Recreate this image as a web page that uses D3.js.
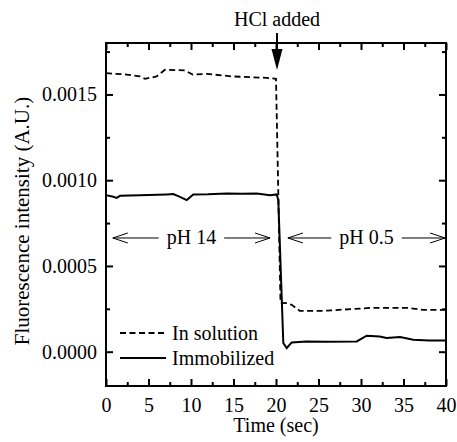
<!DOCTYPE html>
<html><head><meta charset="utf-8">
<script src="https://cdn.jsdelivr.net/npm/d3@7"></script>
</head><body style="margin:0;background:#fff">
<svg id="c" width="457" height="442" style="display:block;background:#fff"></svg>
<script>
// ---- data ----
const solutionT = [0,2.43,4.0,4.6,5.96,6.94,9.3,10.2,11.85,14.9,18.9,20.0,20.53,21.26,21.85,22.8,25.5,31.4,35.4,37.3,40];
const solutionV = [0.001624,0.001616,0.001605,0.001591,0.001605,0.001644,0.001640,0.001616,0.00162,0.001605,0.001597,0.001591,0.000285,0.000283,0.000273,0.000238,0.000238,0.000256,0.000256,0.000244,0.000244];
const immobT = [0,0.86,1.26,1.65,4,7.14,7.92,8.7,9.5,10.27,12,14.2,16,17.73,19.3,20.08,20.27,20.86,21.26,21.85,23.6,26,29.5,30.67,32.2,33.0,34.6,36.15,38,40];
const immobV = [0.000913,0.000903,0.000897,0.000909,0.000912,0.000917,0.000919,0.000903,0.000884,0.000917,0.000918,0.000923,0.000921,0.000923,0.000913,0.000917,0.000884,0.0000506,0.0000215,0.000054,0.00006,0.000058,0.00006,0.000093,0.000089,0.00008,0.000085,0.00007,0.000066,0.000066];
const xMajor = [0,5,10,15,20,25,30,35,40];
const xMinor = [2.5,7.5,12.5,17.5,22.5,27.5,32.5,37.5];
const yMajor = [0,0.0005,0.0010,0.0015];
const yMinor = [0.00025,0.00075,0.00125,0.00175];
const yLabels = ["0.0000","0.0005","0.0010","0.0015"];
const seriesNames = ["In solution","Immobilized"];
const xTitle = "Time (sec)";
const yTitle = "Fluorescence intensity (A.U.)";
const eventT = 20, eventLabel = "HCl added";
const phLabels = ["pH 14","pH 0.5"];
const phRanges = [[0.8,19.3],[21.4,39.9]];
const phLevel = 0.000663;
</script>
<script>
const FONT = "Liberation Serif";
const svg = d3.select("#c").attr("font-family",FONT);
const L=106,R=446,T=43,B=386;
const x = d3.scaleLinear().domain([0,40]).range([L,R]);
const y = d3.scaleLinear().domain([-0.0002,0.0018]).range([B,T]);
const fs = 20;
function txt(sel, size){ return sel.style("font-family",FONT).style("font-size",(size||fs)+"px").attr("fill","#000"); }

// frame
svg.append("rect").attr("x",L).attr("y",T).attr("width",R-L).attr("height",B-T)
  .attr("fill","none").attr("stroke","#000").attr("stroke-width",2);

function ax(gen, tx, ty){
  const g = svg.append("g").attr("transform",`translate(${tx},${ty})`).call(gen);
  g.attr("font-family",FONT).attr("font-size",fs);
  g.select(".domain").remove();
  g.selectAll("line").attr("stroke","#000").attr("stroke-width",2);
  txt(g.selectAll("text"));
  return g;
}
const yFmt = d => yLabels[yMajor.indexOf(d)];
ax(d3.axisBottom(x).tickValues(xMajor).tickSize(-7).tickPadding(12).tickFormat(d3.format("d")),0,B);
ax(d3.axisBottom(x).tickValues(xMinor).tickSize(-4).tickFormat(""),0,B);
ax(d3.axisTop(x).tickValues(xMajor).tickSize(-7).tickFormat(""),0,T);
ax(d3.axisTop(x).tickValues(xMinor).tickSize(-4).tickFormat(""),0,T);
ax(d3.axisLeft(y).tickValues(yMajor).tickSize(-7).tickPadding(9).tickFormat(yFmt),L,0);
ax(d3.axisLeft(y).tickValues(yMinor).tickSize(-4).tickFormat(""),L,0);
ax(d3.axisRight(y).tickValues(yMajor).tickSize(-7).tickFormat(""),R,0);
ax(d3.axisRight(y).tickValues(yMinor).tickSize(-4).tickFormat(""),R,0);

// lines
const line = d3.line().x(d=>x(d[0])).y(d=>y(d[1]));
const sol = solutionT.map((t,i)=>[t,solutionV[i]]);
const imm = immobT.map((t,i)=>[t,immobV[i]]);
svg.append("path").datum(sol).attr("d",line).attr("fill","none").attr("stroke","#000")
  .attr("stroke-width",1.8).attr("stroke-dasharray","6,3.5");
svg.append("path").datum(imm).attr("d",line).attr("fill","none").attr("stroke","#000")
  .attr("stroke-width",2);

// axis titles
txt(svg.append("text").attr("x",(L+R)/2).attr("y",432).attr("text-anchor","middle")).text(xTitle);
txt(svg.append("text").attr("transform","translate(29,221) rotate(-90)").attr("text-anchor","middle"),21).text(yTitle);

// HCl annotation
const ex = x(eventT)+1;
txt(svg.append("text").attr("x",ex).attr("y",26).attr("text-anchor","middle")).text(eventLabel);
svg.append("line").attr("x1",ex).attr("x2",ex).attr("y1",33).attr("y2",52).attr("stroke","#000").attr("stroke-width",2);
svg.append("path").attr("d",`M${ex-5.5},49 L${ex+5.5},49 L${ex},70 Z`).attr("fill","#000");

// pH annotations
phLabels.forEach((lab,i)=>{
  const [a,b] = phRanges[i];
  const xa=x(a), xb=x(b), yy=y(phLevel);
  const t = txt(svg.append("text").attr("x",(xa+xb)/2).attr("y",yy+6).attr("text-anchor","middle")).text(lab);
  const w = t.node().getComputedTextLength();
  const c=(xa+xb)/2, gap=8;
  const g = svg.append("g").attr("fill","none").attr("stroke","#000").attr("stroke-width",1);
  g.append("line").attr("x1",xa).attr("x2",c-w/2-gap).attr("y1",yy).attr("y2",yy);
  g.append("line").attr("x1",c+w/2+gap).attr("x2",xb).attr("y1",yy).attr("y2",yy);
  g.append("path").attr("d",`M${xa+15},${yy-5} L${xa},${yy} L${xa+15},${yy+5}`);
  g.append("path").attr("d",`M${xb-15},${yy-5} L${xb},${yy} L${xb-15},${yy+5}`);
});

// legend
const leg = [{y:333,dash:"6,3.5",w:1.8},{y:358,dash:null,w:2}];
leg.forEach((d,i)=>{
  svg.append("line").attr("x1",120).attr("x2",166).attr("y1",d.y).attr("y2",d.y)
    .attr("stroke","#000").attr("stroke-width",d.w).attr("stroke-dasharray",d.dash);
  txt(svg.append("text").attr("x",172).attr("y",d.y+7)).text(seriesNames[i]);
});
</script>
</body></html>
